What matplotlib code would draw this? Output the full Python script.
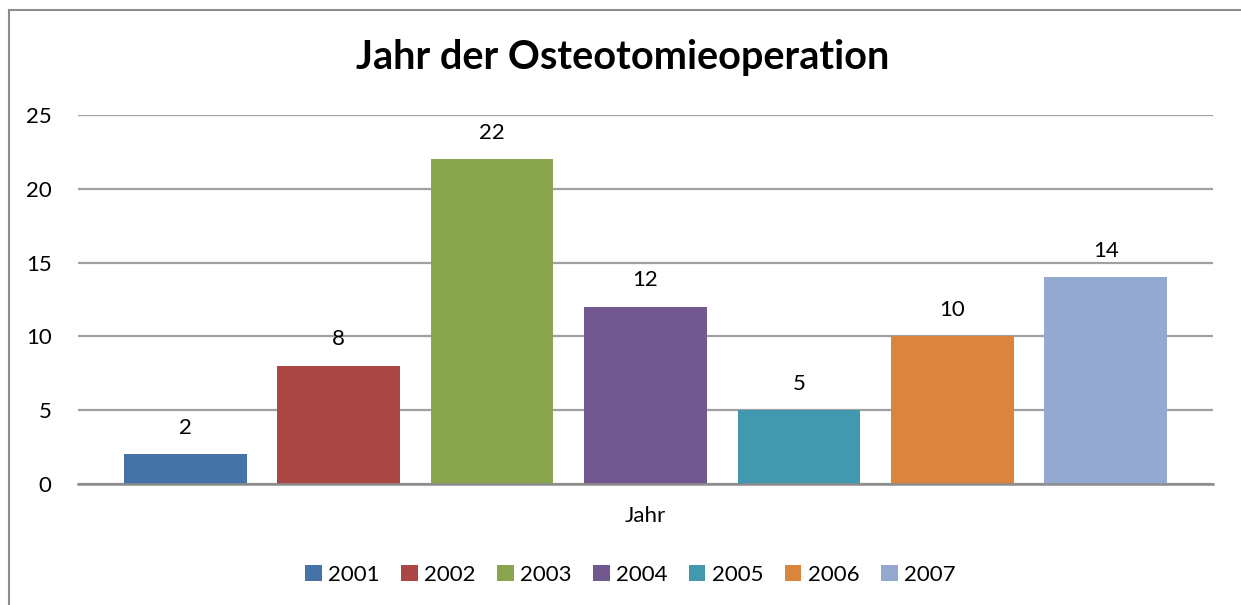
import matplotlib.pyplot as plt
from matplotlib.lines import Line2D

plt.rcParams['font.family'] = ['Lato', 'DejaVu Sans']

years = ['2001', '2002', '2003', '2004', '2005', '2006', '2007']
counts = [2, 8, 22, 12, 5, 10, 14]
colors = ['#4572A7', '#AA4643', '#89A54E', '#71588F', '#4198AF', '#DB843D', '#93A9CF']

fig = plt.figure(figsize=(12.41, 6.05), dpi=100)
ax = fig.add_axes([78 / 1241, 0.2, (1213 - 78) / 1241, 0.61])

bars = []
for i in range(len(years)):
    b = ax.bar(i, counts[i], width=0.8, color=colors[i], label=years[i], zorder=3)
    bars.append(b)
    ax.annotate(str(counts[i]), (i, counts[i]), xytext=(0, 12), textcoords='offset points',
                ha='center', va='bottom', fontsize=16)

ax.set_xlim(-0.70, 6.70)
ax.set_ylim(0, 25)
ax.set_yticks([0, 5, 10, 15, 20, 25])
ax.set_xticks([])
ax.yaxis.grid(True, color='#a0a0a0', linewidth=1.6, zorder=0)
ax.tick_params(axis='y', length=0, pad=19, labelsize=16)
for s in ['top', 'right', 'left']:
    ax.spines[s].set_visible(False)
ax.spines['bottom'].set_color('#8c8c8c')
ax.spines['bottom'].set_linewidth(1.8)
ax.spines['bottom'].set_zorder(4)

ax.set_xlabel('Jahr', fontsize=16, labelpad=16)
fig.text(0.502, 0.905, 'Jahr der Osteotomieoperation', ha='center', va='center',
         fontsize=28.5, fontweight='bold')

ax.legend(handles=bars, labels=years, ncol=7, loc='center', bbox_to_anchor=(0.508, 0.05),
          bbox_transform=fig.transFigure, frameon=False, fontsize=16,
          handlelength=0.75, handleheight=0.75, handletextpad=0.3, columnspacing=0.95)

# chart border (only top and left visible in the crop)
fig.add_artist(Line2D([9 / 1241, 9 / 1241], [0, 1 - 10 / 605], color='#8c8c8c', linewidth=1.5))
fig.add_artist(Line2D([9 / 1241, 1], [1 - 10 / 605, 1 - 10 / 605], color='#8c8c8c', linewidth=1.5))

fig.savefig('out.png', dpi=100)
